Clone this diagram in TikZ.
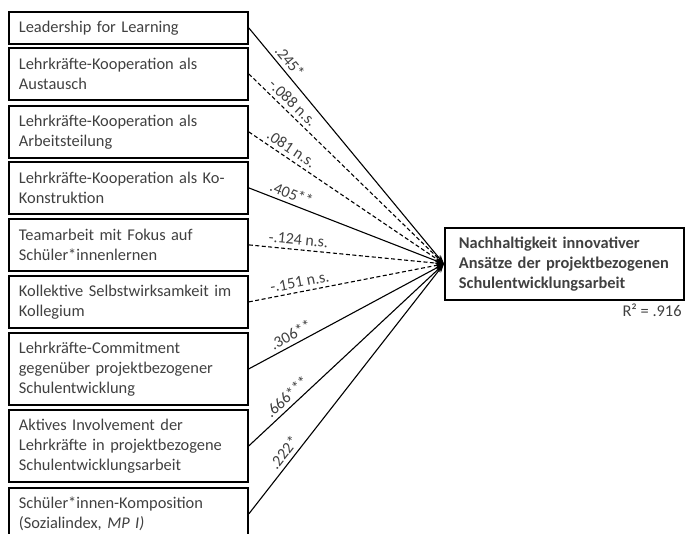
\documentclass[tikz,border=0pt]{standalone}
\usepackage{fontspec}
\setmainfont{Carlito}
\usetikzlibrary{arrows.meta}
\definecolor{txt}{HTML}{404040}
\begin{document}
\begin{tikzpicture}[x=1pt,y=-1pt,
  srcbox/.style={draw=black,line width=1.8pt,anchor=north west,text width=219pt,
    inner xsep=10pt,inner ysep=0pt,align=left,
    font=\fontsize{16.4}{20}\selectfont,text=txt},
  tgtbox/.style={draw=black,line width=1.8pt,anchor=north west,text width=219pt,
    inner xsep=10pt,inner ysep=0pt,align=left,minimum height=72pt,
    font=\fontsize{16.4}{20}\selectfont\bfseries,text=txt},
  conn/.style={draw=black,line width=1.1pt,-{Stealth[length=9pt,width=6pt]}},
  ns/.style={conn,dash pattern=on 4pt off 2.5pt},
  lab/.style={sloped,above=3pt,inner sep=1pt,font=\fontsize{16}{18}\selectfont,text=txt},
  rsq/.style={anchor=north east,inner sep=0pt,font=\fontsize{16.4}{18}\selectfont,text=txt}
]
\useasboundingbox (0,0) rectangle (685,534);
\node[srcbox,minimum height=32pt] (b1) at (8,11) {Leadership for Learning};
\node[srcbox,minimum height=52pt] (b2) at (8,47) {Lehrkräfte-Kooperation als\\Austausch};
\node[srcbox,minimum height=52pt] (b3) at (8,105) {Lehrkräfte-Kooperation als\\Arbeitsteilung};
\node[srcbox,minimum height=52pt] (b4) at (8,161) {Lehrkräfte-Kooperation als Ko-\\Konstruktion};
\node[srcbox,minimum height=52pt] (b5) at (8,218) {Teamarbeit mit Fokus auf\\Schüler*innenlernen};
\node[srcbox,minimum height=52pt] (b6) at (8,275) {Kollektive Selbstwirksamkeit im\\Kollegium};
\node[srcbox,minimum height=72pt] (b7) at (8,332) {Lehrkräfte-Commitment\\gegenüber projektbezogener\\Schulentwicklung};
\node[srcbox,minimum height=72pt] (b8) at (8,409) {Aktives Involvement der\\Lehrkräfte in projektbezogene\\Schulentwicklungsarbeit};
\node[srcbox,minimum height=52pt] (b9) at (8,487) {Schüler*innen-Komposition\\(Sozialindex, \textit{MP I)}};
\node[tgtbox] (t) at (444,227) {\hspace*{4pt}Nachhaltigkeit innovativer\\\hspace*{4pt}Ansätze der projektbezogenen\\\hspace*{4pt}Schulentwicklungsarbeit};
\node[rsq] (r) at ([xshift=-3pt,yshift=-3pt]t.south east) {R² = .916};
\draw[conn] (b1.east) -- node[lab,pos=.17]{.245*} (t.west);
\draw[ns] (b2.east) -- node[lab,pos=.19]{-.088 n.s.} (t.west);
\draw[ns] (b3.east) -- node[lab,pos=.19]{.081 n.s.} (t.west);
\draw[conn] (b4.east) -- node[lab,pos=.2]{.405**} (t.west);
\draw[ns] (b5.east) -- node[lab,pos=.25]{-.124 n.s.} (t.west);
\draw[ns] (b6.east) -- node[lab,pos=.27]{-.151 n.s.} (t.west);
\draw[conn] (b7.east) -- node[lab,pos=.24]{.306**} (t.west);
\draw[conn] (b8.east) -- node[lab,pos=.23]{.666***} (t.west);
\draw[conn] (b9.east) -- node[lab,pos=.22]{.222*} (t.west);
\end{tikzpicture}
\end{document}
